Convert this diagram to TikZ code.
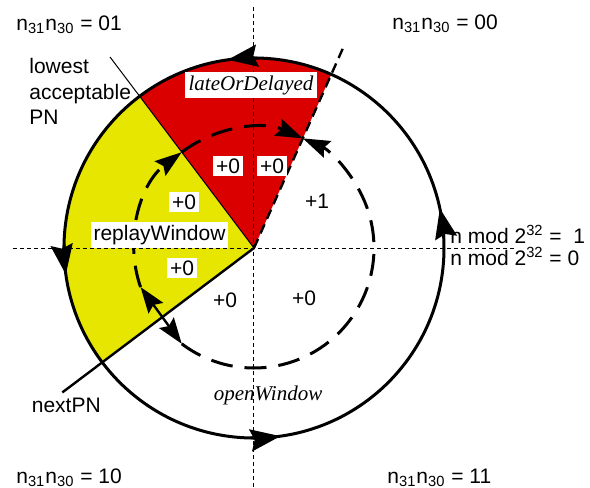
\documentclass[tikz,border=0pt]{standalone}
\usepackage{fontspec}
\setmainfont{Liberation Sans}
\newfontfamily\serifit{Liberation Serif}
\usetikzlibrary{arrows.meta,positioning}
\definecolor{latered}{RGB}{218,0,0}
\definecolor{replayyellow}{RGB}{230,230,0}

\begin{document}
\begin{tikzpicture}[x=0.5pt, y=0.5pt,
    every node/.style={font=\fontsize{10.5}{12.75}\selectfont, inner sep=0pt},
    italic/.style={font=\fontsize{10.5}{12.75}\selectfont\serifit\itshape},
    numbox/.style={fill=white, inner sep=1.5pt},
    axis/.style={line width=0.5pt, dash pattern=on 2pt off 1.5pt},
    ring/.style={line width=1.5pt},
    ringtip/.style={ring, -{Stealth[length=15pt,width=11pt,inset=2pt]}},
    window/.style={line width=1.5pt, dash pattern=on 11pt off 6pt, -{Stealth[length=13.5pt,width=9pt,inset=2pt]}},
    jump/.style={line width=1.2pt, {Stealth[length=13pt,width=9pt,inset=2pt]}-{Stealth[length=13pt,width=9pt,inset=2pt]}}]
\newcommand{\outrad}{190}
\newcommand{\inrad}{120}
\newcommand{\anglate}{66}
\newcommand{\anglow}{127}
\newcommand{\angnext}{217}
\useasboundingbox (-254,-240) rectangle (336,248);
\coordinate (o) at (0,0);
\coordinate (lowpn) at (\anglow:\outrad);
\coordinate (lateend) at (\anglate:222);
\coordinate (nextpn) at (\angnext:240);
\coordinate (jumptop) at (199:\inrad);
\coordinate (jumpbot) at (233:\inrad);
\coordinate (leadstart) at (-144,191);

\fill[replayyellow] (o) -- (\angnext:\outrad) arc (\angnext:\anglow:\outrad) -- cycle;
\fill[latered] (o) -- (\anglow:\outrad) arc (\anglow:\anglate:\outrad) -- cycle;

\draw[axis] (-241,0) -- (263,0);
\draw[axis] (0,241) -- (0,-240);

\draw[ring] (o) circle (\outrad);
\foreach \a in {3,89,179,269}
  \draw[ringtip] (\a:\outrad) arc (\a:\a+9:\outrad);

\draw[line width=1.2pt, dash pattern=on 5pt off 3pt] (o) -- (lateend);
\draw[line width=0.5pt] (o) -- (lowpn);
\draw[line width=1.2pt] (o) -- (nextpn);
\draw[line width=0.5pt] (leadstart) -- (lowpn);

\draw[window] (233:\inrad) arc (233:426:\inrad);
\draw[window] (\anglow:\inrad) arc (\anglow:\anglate:\inrad);
\draw[window] (jumptop) arc (199:\anglow:\inrad);
\draw[jump] (jumptop) -- (jumpbot);

\node[numbox] (a1) at (-26,82) {+0};
\node[numbox] (a2) at (18,82) {+0};
\node[numbox] (a3) at (-70,46) {+0};
\node[numbox] (a4) at (-72,-20) {+0};
\node (a5) at (-29,-52) {+0};
\node (a6) at (50,-50) {+0};
\node (a7) at (63,47) {+1};
\node[numbox, italic, inner sep=1.8pt] (late) at (-3,163) {lateOrDelayed};
\node[numbox, inner sep=1.5pt] (replay) at (-94.5,13) {replayWindow};
\node[italic] (open) at (14,-147) {openWindow};
\node[below=2.5pt of nextpn, xshift=2pt] (next) {nextPN};
\node[anchor=north west, align=left] (lowest) at (-225,190) {lowest\\acceptable\\PN};

\node[anchor=base west] (q01) at (-238,218) {n\textsubscript{31}n\textsubscript{30} = 01};
\node[anchor=base west] (q00) at (138,219) {n\textsubscript{31}n\textsubscript{30} = 00};
\node[anchor=base west] (q10) at (-238,-235) {n\textsubscript{31}n\textsubscript{30} = 10};
\node[anchor=base west] (q11) at (133,-235) {n\textsubscript{31}n\textsubscript{30} = 11};
\node[anchor=base west] (wrap1) at (196,5) {n mod 2\textsuperscript{32} = \ 1};
\node[anchor=base west] (wrap0) at (196,-17) {n mod 2\textsuperscript{32} = 0};
\end{tikzpicture}
\end{document}
